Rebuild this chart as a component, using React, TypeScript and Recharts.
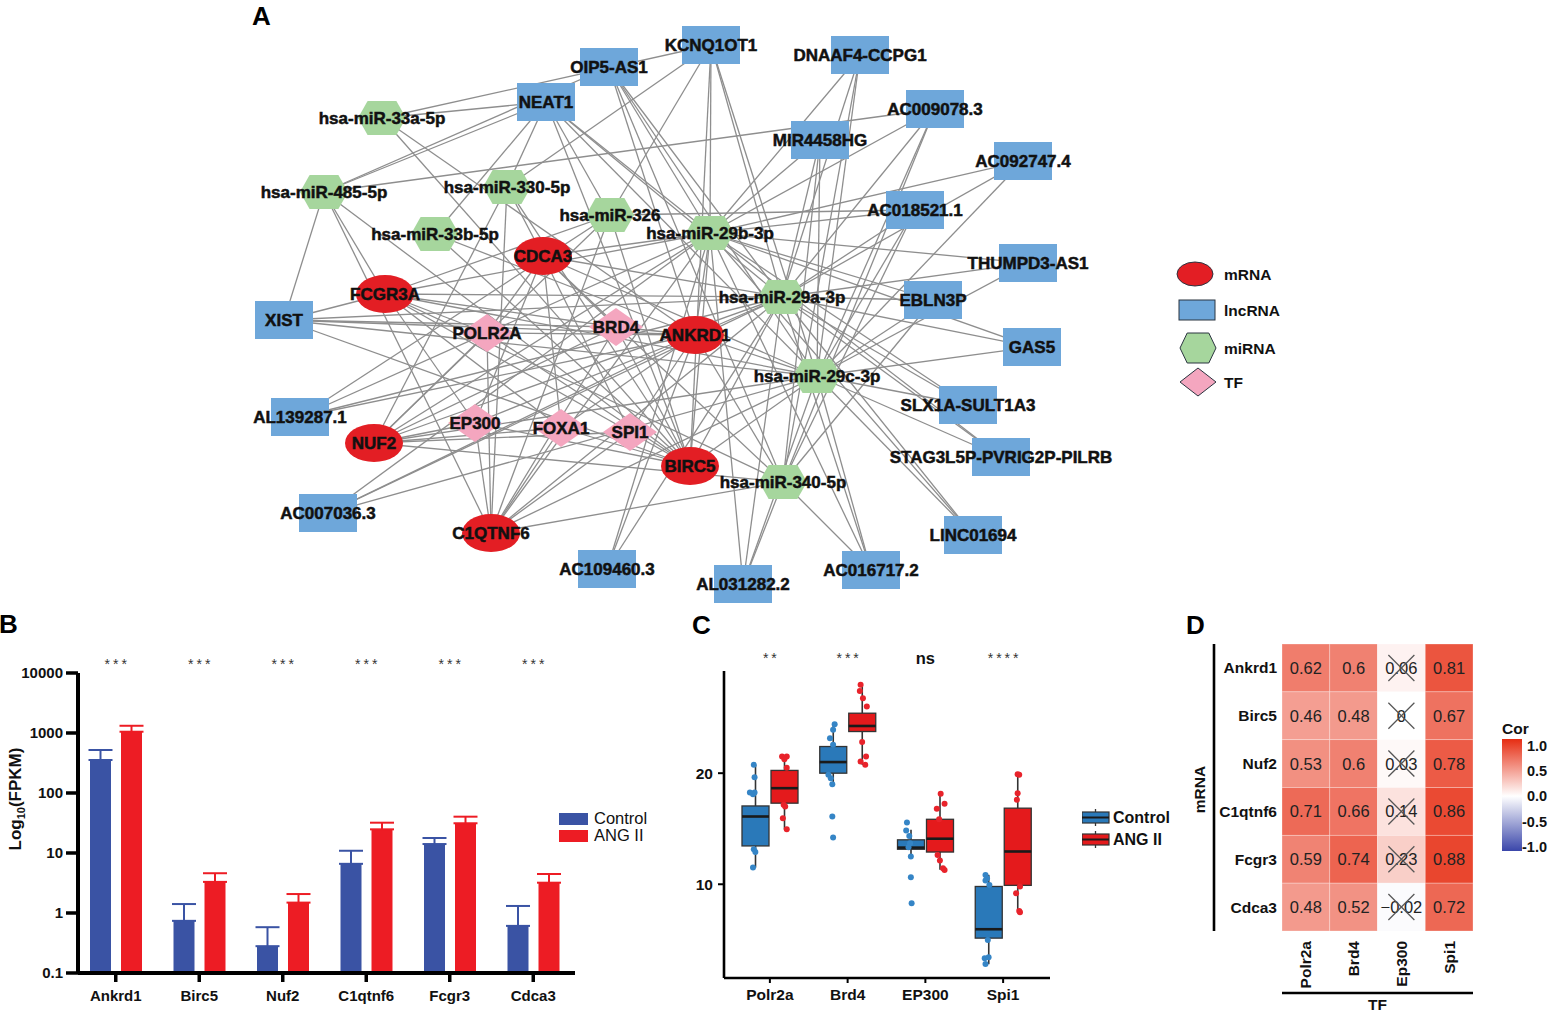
import React from 'react'
import {
  ScatterChart,
  Scatter,
  XAxis,
  YAxis,
  ReferenceLine,
  Legend,
  BarChart,
  Bar,
  ErrorBar,
  ComposedChart,
} from 'recharts'

const FONT = '"Liberation Sans", Arial, Helvetica, sans-serif'

// ---------------- A: regulatory network ----------------
const mrnaNodes = [
  { name: 'CDCA3', x: 543, y: 256 },
  { name: 'FCGR3A', x: 385, y: 294 },
  { name: 'ANKRD1', x: 695, y: 335 },
  { name: 'NUF2', x: 374, y: 443 },
  { name: 'BIRC5', x: 690, y: 466 },
  { name: 'C1QTNF6', x: 491, y: 533 },
]
const lncNodes = [
  { name: 'KCNQ1OT1', x: 711, y: 45 },
  { name: 'OIP5-AS1', x: 609, y: 67 },
  { name: 'NEAT1', x: 546, y: 102 },
  { name: 'DNAAF4-CCPG1', x: 860, y: 55 },
  { name: 'AC009078.3', x: 935, y: 109 },
  { name: 'MIR4458HG', x: 820, y: 140 },
  { name: 'AC092747.4', x: 1023, y: 161 },
  { name: 'AC018521.1', x: 915, y: 210 },
  { name: 'THUMPD3-AS1', x: 1028, y: 263 },
  { name: 'EBLN3P', x: 933, y: 300 },
  { name: 'GAS5', x: 1032, y: 347 },
  { name: 'SLX1A-SULT1A3', x: 968, y: 405 },
  { name: 'STAG3L5P-PVRIG2P-PILRB', x: 1001, y: 457 },
  { name: 'LINC01694', x: 973, y: 535 },
  { name: 'AC016717.2', x: 871, y: 570 },
  { name: 'AL031282.2', x: 743, y: 584 },
  { name: 'AC109460.3', x: 607, y: 569 },
  { name: 'AC007036.3', x: 328, y: 513 },
  { name: 'AL139287.1', x: 300, y: 417 },
  { name: 'XIST', x: 284, y: 320 },
]
const mirNodes = [
  { name: 'hsa-miR-33a-5p', x: 382, y: 118 },
  { name: 'hsa-miR-485-5p', x: 324, y: 192 },
  { name: 'hsa-miR-330-5p', x: 507, y: 187 },
  { name: 'hsa-miR-33b-5p', x: 435, y: 234 },
  { name: 'hsa-miR-326', x: 610, y: 215 },
  { name: 'hsa-miR-29b-3p', x: 710, y: 233 },
  { name: 'hsa-miR-29a-3p', x: 782, y: 297 },
  { name: 'hsa-miR-29c-3p', x: 817, y: 376 },
  { name: 'hsa-miR-340-5p', x: 783, y: 482 },
]
const tfNodes = [
  { name: 'POLR2A', x: 487, y: 333 },
  { name: 'BRD4', x: 616, y: 327 },
  { name: 'EP300', x: 475, y: 423 },
  { name: 'FOXA1', x: 561, y: 428 },
  { name: 'SPI1', x: 630, y: 432 },
]

const M29a = 'hsa-miR-29a-3p'
const M29b = 'hsa-miR-29b-3p'
const M29c = 'hsa-miR-29c-3p'
const M340 = 'hsa-miR-340-5p'
const allMrna = ['CDCA3', 'FCGR3A', 'ANKRD1', 'NUF2', 'BIRC5', 'C1QTNF6']

const edgeGroups: [string, string[]][] = [
  ['KCNQ1OT1', ['hsa-miR-33a-5p', 'hsa-miR-330-5p', 'hsa-miR-326', M29b, M29a, M29c, 'BIRC5']],
  ['OIP5-AS1', ['hsa-miR-485-5p', M29b, M29a, M29c, M340, 'ANKRD1']],
  ['NEAT1', ['hsa-miR-33a-5p', 'hsa-miR-485-5p', 'hsa-miR-330-5p', 'hsa-miR-33b-5p', 'hsa-miR-326', M29b, M29a, M29c, 'BIRC5']],
  ['DNAAF4-CCPG1', [M29b, M29a, M29c, M340]],
  ['AC009078.3', ['hsa-miR-485-5p', M29b, M29a, M29c, M340]],
  ['MIR4458HG', [M29b, M29a, M29c, M340]],
  ['AC092747.4', [M29b, M29a, M29c]],
  ['AC018521.1', ['hsa-miR-326', M29b, M29a, M29c, M340]],
  ['THUMPD3-AS1', [M29b, M29a, M29c]],
  ['EBLN3P', [M29b, M29a, M29c, M340]],
  ['GAS5', [M29b, M29a, M29c]],
  ['SLX1A-SULT1A3', [M29b, M29a, M29c]],
  ['STAG3L5P-PVRIG2P-PILRB', [M29b, M29a, M29c]],
  ['LINC01694', [M29b, M29a, M29c]],
  ['AC016717.2', [M29b, M29a, M29c, M340]],
  ['AL031282.2', [M29b, M29a, M29c, M340]],
  ['AC109460.3', [M29b, M29a, 'ANKRD1']],
  ['AC007036.3', [M29b, M29a, M29c, 'ANKRD1']],
  ['AL139287.1', [M29b, M29a, 'hsa-miR-326', 'ANKRD1']],
  ['XIST', ['hsa-miR-485-5p', 'FCGR3A', M29a, M29c, 'ANKRD1', 'BIRC5', 'BRD4']],
  ['hsa-miR-33a-5p', ['BIRC5', 'ANKRD1']],
  ['hsa-miR-485-5p', ['FCGR3A', 'C1QTNF6', 'BIRC5']],
  ['hsa-miR-330-5p', ['CDCA3', 'C1QTNF6', 'NUF2', 'BIRC5']],
  ['hsa-miR-33b-5p', ['ANKRD1', 'BIRC5']],
  ['hsa-miR-326', ['FCGR3A', 'NUF2', 'C1QTNF6', 'BIRC5']],
  [M29b, allMrna],
  [M29a, allMrna],
  [M29c, allMrna],
  [M340, ['ANKRD1', 'NUF2', 'C1QTNF6', 'FCGR3A', 'CDCA3']],
  ['POLR2A', allMrna],
  ['BRD4', allMrna],
  ['EP300', allMrna],
  ['FOXA1', allMrna],
  ['SPI1', allMrna],
]

const nodePos: Record<string, { x: number; y: number }> = Object.fromEntries(
  [...mrnaNodes, ...lncNodes, ...mirNodes, ...tfNodes].map((n) => [n.name, n])
)
const edges = edgeGroups.flatMap(([a, list]) => list.map((b) => [a, b] as [string, string]))

const C_MRNA = '#E31E24'
const C_LNC = '#6EA7DA'
const C_MIR = '#A6D69D'
const C_TF = '#F4A6BF'
const C_EDGE = '#8e8e8e'

const hexPoints = (cx: number, cy: number, w: number, h: number) => {
  const i = w * 0.2
  return [
    [cx - w / 2, cy],
    [cx - w / 2 + i, cy - h / 2],
    [cx + w / 2 - i, cy - h / 2],
    [cx + w / 2, cy],
    [cx + w / 2 - i, cy + h / 2],
    [cx - w / 2 + i, cy + h / 2],
  ]
    .map((p) => p.join(','))
    .join(' ')
}
const diamondPoints = (cx: number, cy: number, w: number, h: number) =>
  [
    [cx - w / 2, cy],
    [cx, cy - h / 2],
    [cx + w / 2, cy],
    [cx, cy + h / 2],
  ]
    .map((p) => p.join(','))
    .join(' ')

const EllipseNode = (p: any) => <ellipse cx={p.cx} cy={p.cy} rx={29} ry={19} fill={C_MRNA} />
const RectNode = (p: any) => <rect x={p.cx - 29} y={p.cy - 19} width={58} height={38} fill={C_LNC} />
const HexNode = (p: any) => <polygon points={hexPoints(p.cx, p.cy, 48, 34)} fill={C_MIR} />
const DiamondNode = (p: any) => <polygon points={diamondPoints(p.cx, p.cy, 54, 38)} fill={C_TF} />
const NodeLabel = (p: any) => (
  <text
    x={p.cx}
    y={p.cy}
    dy={6}
    textAnchor="middle"
    fontFamily={FONT}
    fontSize={17}
    fontWeight="bold"
    fill="#111"
    stroke="#111"
    strokeWidth={0.5}
  >
    {p.payload.name}
  </text>
)

const NetLegend = () => {
  const items = [
    { label: 'mRNA', y: 19 },
    { label: 'lncRNA', y: 55 },
    { label: 'miRNA', y: 93 },
    { label: 'TF', y: 127 },
  ]
  return (
    <svg width={140} height={150}>
      <ellipse cx={25} cy={19} rx={18} ry={12} fill={C_MRNA} stroke="#2b3440" strokeWidth={1} />
      <rect x={9} y={45} width={36} height={20} fill={C_LNC} stroke="#2b3440" strokeWidth={1} />
      <polygon points={hexPoints(28, 93, 36, 30)} fill={C_MIR} stroke="#2b3440" strokeWidth={1} />
      <polygon points={diamondPoints(28, 127, 36, 28)} fill={C_TF} stroke="#2b3440" strokeWidth={1} />
      {items.map((it) => (
        <text key={it.label} x={54} y={it.y + 6} fontFamily={FONT} fontSize={15.5} fontWeight="bold" fill="#111">
          {it.label}
        </text>
      ))}
    </svg>
  )
}

function NetworkPanel() {
  return (
    <ScatterChart width={1549} height={610} margin={{ top: 0, right: 0, bottom: 0, left: 0 }}>
      <XAxis type="number" dataKey="x" domain={[0, 1549]} hide />
      <YAxis type="number" dataKey="y" domain={[0, 610]} reversed hide />
      {edges.map(([a, b], i) => (
        <ReferenceLine
          key={i}
          segment={[
            { x: nodePos[a].x, y: nodePos[a].y },
            { x: nodePos[b].x, y: nodePos[b].y },
          ]}
          stroke={C_EDGE}
          strokeWidth={1.3}
        />
      ))}
      <Scatter data={lncNodes} shape={RectNode} isAnimationActive={false} />
      <Scatter data={mirNodes} shape={HexNode} isAnimationActive={false} />
      <Scatter data={tfNodes} shape={DiamondNode} isAnimationActive={false} />
      <Scatter data={mrnaNodes} shape={EllipseNode} isAnimationActive={false} />
      <Scatter data={[...lncNodes, ...mirNodes, ...tfNodes, ...mrnaNodes]} shape={NodeLabel} isAnimationActive={false} />
      <Legend
        layout="horizontal"
        verticalAlign="middle"
        align="center"
        content={<NetLegend />}
        wrapperStyle={{ left: 1170, top: 255, width: 140, height: 150 }}
      />
    </ScatterChart>
  )
}

// ---------------- B: FPKM bar chart ----------------
const bGenes = ['Ankrd1', 'Birc5', 'Nuf2', 'C1qtnf6', 'Fcgr3', 'Cdca3']
const bStars = ['***', '***', '***', '***', '***', '***']
const bControl = [355, 0.74, 0.28, 6.6, 14.1, 0.61]
const bControlErr = [166, 0.67, 0.3, 4.3, 3.7, 0.7]
const bAng = [1050, 3.3, 1.49, 24.8, 31.3, 3.2]
const bAngErr = [270, 1.3, 0.58, 7.2, 9, 1.27]
const bTicks = [0.1, 1, 10, 100, 1000, 10000]
const bSeries = [
  { label: 'Control', color: '#3A53A4' },
  { label: 'ANG II', color: '#ED1C24' },
]

const B_BLUE = bSeries[0].color
const B_RED = bSeries[1].color

const bData = bGenes.map((g, i) => ({
  gene: g,
  control: bControl[i],
  ang: bAng[i],
  controlErr: [0, bControlErr[i]],
  angErr: [0, bAngErr[i]],
}))

const starTick = (labels: string[], cats: string[], dy: number) => (p: any) => {
  const s = labels[cats.indexOf(p.payload.value)]
  const ns = s === 'ns'
  return (
    <text
      x={p.x + (ns ? 0 : 1.5)}
      y={p.y + (ns ? dy + 1 : dy)}
      textAnchor="middle"
      fontFamily={FONT}
      fontSize={ns ? 16.5 : 14}
      fontWeight={ns ? 'bold' : 'normal'}
      letterSpacing={ns ? 0 : 3}
      fill={ns ? '#111' : '#333'}
    >
      {s}
    </text>
  )
}

const BXTick = (p: any) => (
  <text x={p.x} y={p.y} dy={17} textAnchor="middle" fontFamily={FONT} fontSize={15} fontWeight="bold" fill="#111">
    {p.payload.value}
  </text>
)
const BYTick = (p: any) => (
  <text x={p.x - 1} y={p.y} dy={5} textAnchor="end" fontFamily={FONT} fontSize={15} fontWeight="bold" fill="#111">
    {p.payload.value}
  </text>
)
const BYLabel = (p: any) => {
  const vb = p.viewBox
  const x = vb.x - 3
  const y = vb.y + vb.height / 2 - 24
  return (
    <text transform={`rotate(-90 ${x} ${y})`} x={x} y={y} dy={6} textAnchor="middle" fontFamily={FONT} fontSize={17} fontWeight="bold" fill="#111">
      Log
      <tspan fontSize={11} dy={4}>10</tspan>
      <tspan dy={-4}>(FPKM)</tspan>
    </text>
  )
}
// legend drawn as html rows
const BLegend = () => (
  <div style={{ fontFamily: FONT, fontSize: 16.5, color: '#111', lineHeight: '17px' }}>
    {bSeries.map((s) => (
      <div key={s.label} style={{ display: 'flex', alignItems: 'center', height: 17, whiteSpace: 'nowrap' }}>
        <span style={{ display: 'inline-block', width: 29, height: 12, background: s.color, marginRight: 6 }} />
        <span>{s.label}</span>
      </div>
    ))}
  </div>
)

function BarPanel() {
  return (
    <BarChart width={700} height={372} data={bData} margin={{ top: 13, right: 125, bottom: 7, left: 18 }} barGap={10}>
      <XAxis
        dataKey="gene"
        height={32}
        padding={{ left: -4, right: 0 }}
        axisLine={{ stroke: '#000', strokeWidth: 4 }}
        tickLine={{ stroke: '#000', strokeWidth: 3.5 }}
        tickSize={9}
        tick={BXTick}
        interval={0}
      />
      <XAxis
        xAxisId="stars"
        dataKey="gene"
        orientation="top"
        height={20}
        padding={{ left: -4, right: 0 }}
        axisLine={false}
        tickLine={false}
        tick={starTick(bStars, bGenes, 4)}
        interval={0}
      />
      <YAxis
        scale="log"
        domain={[0.1, 10000]}
        ticks={bTicks}
        allowDataOverflow
        width={60}
        axisLine={{ stroke: '#000', strokeWidth: 4 }}
        tickLine={{ stroke: '#000', strokeWidth: 3.5 }}
        tickSize={12}
        tick={BYTick}
        interval={0}
        label={<BYLabel />}
      />
      <Bar dataKey="control" fill={B_BLUE} barSize={21} isAnimationActive={false}>
        <ErrorBar dataKey="controlErr" width={12} strokeWidth={2} stroke={B_BLUE} direction="y" />
      </Bar>
      <Bar dataKey="ang" fill={B_RED} barSize={21} isAnimationActive={false}>
        <ErrorBar dataKey="angErr" width={12} strokeWidth={2} stroke={B_RED} direction="y" />
      </Bar>
      <Legend
        layout="horizontal"
        verticalAlign="middle"
        align="center"
        content={<BLegend />}
        wrapperStyle={{ left: 559, top: 170, width: 120, height: 36 }}
      />
    </BarChart>
  )
}

// ---------------- C: TF expression box plots ----------------
const cGenes = ['Polr2a', 'Brd4', 'EP300', 'Spi1']
const cStars = ['**', '***', 'ns', '****']
const ctrlLo = [11.5, 19.0, 12.5, 2.8]
const ctrlQ1 = [13.45, 20.0, 13.15, 5.15]
const ctrlMed = [16.1, 21.0, 13.3, 5.95]
const ctrlQ3 = [17.05, 22.4, 14.0, 9.8]
const ctrlHi = [20.75, 24.4, 14.9, 10.85]
const angLo = [14.95, 20.75, 11.3, 7.55]
const angQ1 = [17.3, 23.75, 12.9, 9.9]
const angMed = [18.65, 24.25, 14.1, 12.95]
const angQ3 = [20.25, 25.4, 15.85, 16.85]
const angHi = [21.55, 27.95, 18.2, 19.9]
// individual samples: [value, horizontal jitter in category widths]
const ctrlPoints: [number, number][][] = [
  [[20.75, -0.02], [19.64, -0.01], [18.26, -0.07], [18.26, -0.01], [18.1, -0.03], [13.15, -0.02], [12.9, 0], [11.5, -0.03]],
  [[24.4, 0.02], [23.9, 0], [23.15, -0.04], [22.55, 0], [19.85, -0.06], [19.55, -0.03], [19.0, -0.01], [16.1, -0.01], [14.2, 0]],
  [[15.56, -0.05], [14.83, -0.06], [14.35, -0.02], [13.69, -0.01], [13.33, -0.03], [12.5, 0], [10.63, 0], [8.29, 0.01]],
  [[10.84, -0.04], [10.54, -0.02], [10.33, -0.04], [9.94, 0.01], [4.98, -0.01], [3.33, -0.05], [3.42, 0], [2.82, -0.04]],
]
const angPoints: [number, number][][] = [
  [[21.5, -0.03], [21.5, 0.03], [21.26, 0], [20.5, 0.03], [17.15, -0.01], [17.0, 0.01], [15.95, -0.02], [14.95, 0.03]],
  [[27.96, -0.02], [27.4, -0.03], [26.75, 0.01], [26.0, 0.06], [22.8, 0], [21.5, 0.05], [21.05, -0.02], [20.75, 0.04]],
  [[18.14, 0.01], [17.24, 0.06], [16.79, -0.04], [15.86, -0.01], [12.64, -0.03], [12.13, 0], [11.44, 0.04], [11.29, 0.06]],
  [[19.91, 0], [19.85, 0.02], [18.2, 0], [17.6, -0.01], [9.79, 0.03], [9.19, -0.02], [7.6, 0.02], [7.48, 0.03]],
]

const C_BLUE = '#2A79B9'
const C_RED = '#E41A1C'
const C_BLUE_PT = '#3585C6'
const C_RED_PT = '#E8232B'
const BOX_W = 27
const BOX_GAP = 2
const SIDE = (BOX_W + BOX_GAP) / 2 / 77.6

const cData = cGenes.map((g, i) => ({
  gene: g,
  ctrlBox: [ctrlQ1[i], ctrlQ3[i]],
  angBox: [angQ1[i], angQ3[i]],
  ctrl: { lo: ctrlLo[i], q1: ctrlQ1[i], med: ctrlMed[i], q3: ctrlQ3[i], hi: ctrlHi[i] },
  ang: { lo: angLo[i], q1: angQ1[i], med: angMed[i], q3: angQ3[i], hi: angHi[i] },
}))
const ctrlScatter = ctrlPoints.flatMap((pts, gi) => pts.map(([v, j]) => ({ px: gi + 1 - SIDE + j, v })))
const angScatter = angPoints.flatMap((pts, gi) => pts.map(([v, j]) => ({ px: gi + 1 + SIDE + j, v })))

const boxShape = (key: 'ctrl' | 'ang', fill: string) => (p: any) => {
  const { x, y, width, height, payload } = p
  const s = payload[key]
  const ppu = height / (s.q3 - s.q1)
  const cx = x + width / 2
  const yMed = y + (s.q3 - s.med) * ppu
  const yHi = y - (s.hi - s.q3) * ppu
  const yLo = y + height + (s.q1 - s.lo) * ppu
  return (
    <g>
      <line x1={cx} x2={cx} y1={yHi} y2={y} stroke="#333" strokeWidth={1.6} />
      <line x1={cx} x2={cx} y1={y + height} y2={yLo} stroke="#333" strokeWidth={1.6} />
      <rect x={x} y={y} width={width} height={height} fill={fill} stroke="#333" strokeWidth={1.3} />
      <line x1={x} x2={x + width} y1={yMed} y2={yMed} stroke="#1a1a1a" strokeWidth={2.6} />
    </g>
  )
}
const dot = (fill: string) => (p: any) => <circle cx={p.cx} cy={p.cy} r={3} fill={fill} />

const CXTick = (p: any) => (
  <text x={p.x} y={p.y} dy={15} textAnchor="middle" fontFamily={FONT} fontSize={15.5} fontWeight="bold" fill="#111">
    {p.payload.value}
  </text>
)
const CYTick = (p: any) => (
  <text x={p.x - 3} y={p.y} dy={5.5} textAnchor="end" fontFamily={FONT} fontSize={15.5} fontWeight="bold" fill="#111">
    {p.payload.value}
  </text>
)
const legendBox = (y: number, fill: string) => (
  <g>
    <line x1={13.5} x2={13.5} y1={y - 3} y2={y + 14} stroke="#333" strokeWidth={1.3} />
    <rect x={0} y={y} width={27} height={11} fill={fill} stroke="#333" strokeWidth={1.2} />
    <line x1={0} x2={27} y1={y + 5.5} y2={y + 5.5} stroke="#1a1a1a" strokeWidth={2} />
  </g>
)
const CLegend = () => (
  <svg width={100} height={48}>
    {legendBox(9, C_BLUE)}
    <text x={31} y={20} fontFamily={FONT} fontSize={16} fontWeight="bold" fill="#111">Control</text>
    {legendBox(31, C_RED)}
    <text x={31} y={42} fontFamily={FONT} fontSize={16} fontWeight="bold" fill="#111">ANG II</text>
  </svg>
)

function BoxPanel() {
  const pad = { left: 7, right: 8 }
  return (
    <ComposedChart width={500} height={372} data={cData} margin={{ top: 11, right: 130, bottom: 4, left: 8 }} barGap={BOX_GAP}>
      <XAxis
        dataKey="gene"
        padding={pad}
        height={30}
        axisLine={{ stroke: '#000', strokeWidth: 2.6 }}
        tickLine={{ stroke: '#000', strokeWidth: 2 }}
        tickSize={5}
        tick={CXTick}
        interval={0}
      />
      <XAxis
        xAxisId="stars"
        dataKey="gene"
        orientation="top"
        padding={pad}
        height={20}
        axisLine={false}
        tickLine={false}
        tick={starTick(cStars, cGenes, 0)}
        interval={0}
      />
      <XAxis xAxisId="pts" type="number" dataKey="px" domain={[0.5, 4.5]} padding={pad} hide />
      <YAxis
        type="number"
        domain={[1.56, 29.2]}
        ticks={[10, 20]}
        allowDataOverflow
        width={36}
        axisLine={{ stroke: '#000', strokeWidth: 2.6 }}
        tickLine={{ stroke: '#000', strokeWidth: 2 }}
        tickSize={6}
        tick={CYTick}
      />
      <Bar dataKey="ctrlBox" barSize={BOX_W} shape={boxShape('ctrl', C_BLUE)} isAnimationActive={false} />
      <Bar dataKey="angBox" barSize={BOX_W} shape={boxShape('ang', C_RED)} isAnimationActive={false} />
      <Scatter xAxisId="pts" data={ctrlScatter} dataKey="v" shape={dot(C_BLUE_PT)} isAnimationActive={false} />
      <Scatter xAxisId="pts" data={angScatter} dataKey="v" shape={dot(C_RED_PT)} isAnimationActive={false} />
      <Legend
        layout="horizontal"
        verticalAlign="middle"
        align="center"
        content={<CLegend />}
        wrapperStyle={{ left: 402, top: 163, width: 100, height: 48 }}
      />
    </ComposedChart>
  )
}

// ---------------- D: correlation heatmap ----------------
const dGenes = ['Ankrd1', 'Birc5', 'Nuf2', 'C1qtnf6', 'Fcgr3', 'Cdca3']
const dTfs = ['Polr2a', 'Brd4', 'Ep300', 'Spi1']
const corPolr2a = [0.62, 0.46, 0.53, 0.71, 0.59, 0.48]
const corBrd4 = [0.6, 0.48, 0.6, 0.66, 0.74, 0.52]
const corEp300 = [0.06, 0, 0.03, 0.14, 0.23, -0.02]
const corSpi1 = [0.81, 0.67, 0.78, 0.86, 0.88, 0.72]
const tfSignificant = [true, true, false, true]
const corLegendTicks = [1, 0.5, 0, -0.5, -1]

const D_W = 369
const D_H = 402
const D_M = { top: 34, right: 76, bottom: 0, left: 14 }
const D_YLAB_W = 68
const D_YLINE_W = 20
const D_XLAB_H = 62
const D_XLINE_H = 19
const CELL_W = (D_W - D_M.left - D_M.right - D_YLAB_W - D_YLINE_W) / dTfs.length
const CELL_H = (D_H - D_M.top - D_M.bottom - D_XLAB_H - D_XLINE_H) / dGenes.length

const HIGH = [230, 45, 18]
const LOW = [58, 70, 170]
const corColor = (v: number) => {
  const t = Math.min(1, Math.abs(v))
  const c = v >= 0 ? HIGH : LOW
  const m = (k: number) => Math.round(255 + (c[k] - 255) * t)
  return `rgb(${m(0)},${m(1)},${m(2)})`
}
const fmtCor = (v: number) => String(v).replace('-', '\u2212')

const dCells = [corPolr2a, corBrd4, corEp300, corSpi1].flatMap((col, j) =>
  col.map((v, i) => ({ cx: j + 0.5, cy: i + 0.5, value: v, sig: tfSignificant[j] }))
)

const HeatCell = (p: any) => {
  const { cx, cy, payload } = p
  return (
    <g>
      <rect
        x={cx - CELL_W / 2}
        y={cy - CELL_H / 2}
        width={CELL_W}
        height={CELL_H}
        fill={corColor(payload.value)}
        stroke="rgba(255,255,255,0.35)"
        strokeWidth={0.8}
      />
      <text x={cx} y={cy} dy={6} textAnchor="middle" fontFamily={FONT} fontSize={16.5} fill="#222">
        {fmtCor(payload.value)}
      </text>
      {!payload.sig && (
        <g stroke="#555" strokeWidth={1.3}>
          <line x1={cx - 13} y1={cy - 13} x2={cx + 13} y2={cy + 13} />
          <line x1={cx + 13} y1={cy - 13} x2={cx - 13} y2={cy + 13} />
        </g>
      )}
    </g>
  )
}

const DXTick = (p: any) => (
  <text
    x={p.x}
    y={p.y}
    dy={5.5}
    transform={`rotate(-90 ${p.x} ${p.y})`}
    textAnchor="end"
    fontFamily={FONT}
    fontSize={15.5}
    fontWeight="bold"
    fill="#111"
  >
    {dTfs[Math.floor(p.payload.value)]}
  </text>
)
const DYTick = (p: any) => (
  <text x={p.x} y={p.y} dy={5.5} textAnchor="end" fontFamily={FONT} fontSize={15.5} fontWeight="bold" fill="#111">
    {dGenes[Math.floor(p.payload.value)]}
  </text>
)
const DMrnaLabel = (p: any) => {
  const vb = p.viewBox
  const x = vb.x + 5
  const y = vb.y + vb.height / 2 + 2
  return (
    <text transform={`rotate(-90 ${x} ${y})`} x={x} y={y} dy={6} textAnchor="middle" fontFamily={FONT} fontSize={15.5} fontWeight="bold" fill="#111">
      mRNA
    </text>
  )
}
const DTfLabel = (p: any) => {
  const vb = p.viewBox
  return (
    <text x={vb.x + vb.width / 2} y={vb.y + 11} dy={6} textAnchor="middle" fontFamily={FONT} fontSize={15.5} fontWeight="bold" fill="#111">
      TF
    </text>
  )
}
const CorLegend = () => (
  <svg width={50} height={140}>
    <defs>
      <linearGradient id="corGrad" x1="0" y1="0" x2="0" y2="1">
        <stop offset="0%" stopColor={corColor(1)} />
        <stop offset="51%" stopColor="#ffffff" />
        <stop offset="100%" stopColor={corColor(-1)} />
      </linearGradient>
    </defs>
    <text x={4} y={16} fontFamily={FONT} fontSize={15.5} fontWeight="bold" fill="#111">Cor</text>
    <rect x={4} y={21} width={20} height={112} fill="url(#corGrad)" />
    {corLegendTicks.map((t, i) => (
      <text key={t} x={t < 0 ? 24 : 29} y={28 + i * 25.2} dy={5} fontFamily={FONT} fontSize={14.5} fontWeight="bold" fill="#111">
        {t.toFixed(1)}
      </text>
    ))}
  </svg>
)

function HeatmapPanel() {
  return (
    <ScatterChart width={D_W} height={D_H} margin={D_M}>
      <XAxis
        type="number"
        dataKey="cx"
        domain={[0, dTfs.length]}
        ticks={dTfs.map((_, i) => i + 0.5)}
        height={D_XLAB_H}
        axisLine={false}
        tickLine={false}
        tickSize={0}
        tickMargin={10}
        tick={DXTick}
        interval={0}
      />
      <XAxis
        xAxisId="line"
        type="number"
        domain={[0, dTfs.length]}
        height={D_XLINE_H}
        axisLine={{ stroke: '#000', strokeWidth: 2.6 }}
        tickLine={false}
        tick={false}
        label={<DTfLabel />}
      />
      <YAxis
        type="number"
        dataKey="cy"
        domain={[0, dGenes.length]}
        reversed
        ticks={dGenes.map((_, i) => i + 0.5)}
        width={D_YLAB_W}
        axisLine={false}
        tickLine={false}
        tickSize={0}
        tickMargin={5}
        tick={DYTick}
        interval={0}
      />
      <YAxis
        yAxisId="line"
        type="number"
        domain={[0, dGenes.length]}
        width={D_YLINE_W}
        axisLine={{ stroke: '#000', strokeWidth: 2.6 }}
        tickLine={false}
        tick={false}
        label={<DMrnaLabel />}
      />
      <Scatter data={dCells} shape={HeatCell} isAnimationActive={false} />
      <Legend
        layout="horizontal"
        verticalAlign="middle"
        align="center"
        content={<CorLegend />}
        wrapperStyle={{ left: 318, top: 108, width: 50, height: 140 }}
      />
    </ScatterChart>
  )
}

const letterStyle = (left: number, top: number): React.CSSProperties => ({
  position: 'absolute',
  left,
  top,
  fontFamily: FONT,
  fontWeight: 'bold',
  fontSize: 26,
  lineHeight: '26px',
  color: '#000',
})

export default function App() {
  return (
    <div style={{ position: 'absolute', left: 0, top: 0, width: 1549, height: 1012, background: '#fff', overflow: 'hidden' }}>
      <div style={{ position: 'absolute', left: 0, top: 0 }}>
        <NetworkPanel />
      </div>
      <div style={{ position: 'absolute', left: 0, top: 640 }}>
        <BarPanel />
      </div>
      <div style={{ position: 'absolute', left: 680, top: 640 }}>
        <BoxPanel />
      </div>
      <div style={{ position: 'absolute', left: 1180, top: 610 }}>
        <HeatmapPanel />
      </div>
      <div style={letterStyle(252, 3)}>A</div>
      <div style={letterStyle(-1, 611)}>B</div>
      <div style={letterStyle(692, 612)}>C</div>
      <div style={letterStyle(1186, 612)}>D</div>
    </div>
  )
}
